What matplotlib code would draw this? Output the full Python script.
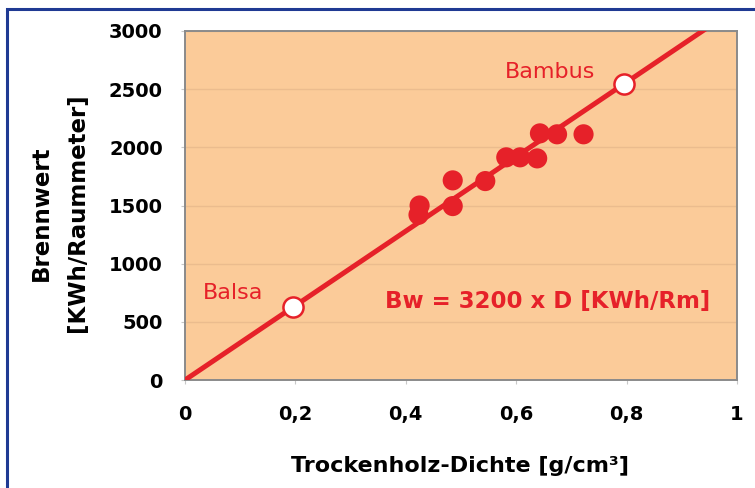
import matplotlib
matplotlib.use("Agg")
import matplotlib.pyplot as plt
from matplotlib.patches import Rectangle

plt.rcParams['font.family'] = ['DejaVu Sans']

# Measured woods: dry density [g/cm³] vs. heating value [KWh/Raummeter]
density = [0.425, 0.423, 0.485, 0.485, 0.544, 0.582, 0.607, 0.638, 0.643, 0.674, 0.722]
heating = [1500, 1420, 1716, 1495, 1710, 1914, 1914, 1905, 2120, 2112, 2112]

# Reference woods on the fitted line
ref_names = ["Balsa", "Bambus"]
ref_density = [0.195, 0.795]
ref_heating = [625, 2545]

slope = 3200  # Bw = 3200 x D
x_ticks = [0, 0.2, 0.4, 0.6, 0.8, 1.0]
x_labels = ["0", "0,2", "0,4", "0,6", "0,8", "1"]
y_ticks = [0, 500, 1000, 1500, 2000, 2500, 3000]

red = "#E62129"
fig = plt.figure(figsize=(7.55, 4.88), dpi=100)

# frame around the figure
fig.patches.append(Rectangle((7 / 755, -0.05), 1.2, 1 - 9 / 488 + 0.05,
                             transform=fig.transFigure, fill=False,
                             edgecolor="#1F3A93", linewidth=2.2))

ax = fig.add_axes([185 / 755, 1 - 380 / 488, 552 / 755, 349 / 488])
ax.set_facecolor("#FBCB99")
ax.set_xlim(0, 1)
ax.set_ylim(0, 3000)

for y in y_ticks[1:]:
    ax.axhline(y, color="#EBBC8E", linewidth=1.0, zorder=1)

xs = [0, 1]
ax.plot(xs, [slope * x for x in xs], color=red, linewidth=3.6,
        solid_capstyle="butt", zorder=3)
ax.scatter(density, heating, s=210, color=red, edgecolors="none", zorder=4)
ax.scatter(ref_density, ref_heating, s=210, facecolor="white",
           edgecolor=red, linewidth=1.8, zorder=5)

ax.text(0.033, 748, ref_names[0], color=red, fontsize=16, va="center", ha="left")
ax.text(0.58, 2648, ref_names[1], color=red, fontsize=16, va="center", ha="left")
ax.text(0.362, 679, "Bw = 3200 x D [KWh/Rm]", color=red, fontsize=16.5,
        fontweight="bold", va="center", ha="left")

ax.set_xticks(x_ticks)
ax.set_xticklabels(x_labels)
ax.set_yticks(y_ticks)
ax.tick_params(axis="both", length=3, color="#C8C8C8", labelsize=14)
ax.tick_params(axis="x", pad=15)
ax.tick_params(axis="y", pad=13)
for lab in ax.get_xticklabels() + ax.get_yticklabels():
    lab.set_fontweight("bold")

for sp in ax.spines.values():
    sp.set_color("#8A8A8A")
    sp.set_linewidth(1.4)

ax.set_xlabel("Trockenholz-Dichte [g/cm³]", fontsize=16, fontweight="bold", va="center")
ax.xaxis.set_label_coords(0.498, -0.246)
ax.set_ylabel("Brennwert\n[KWh/Raummeter]", fontsize=16.5, fontweight="bold",
              va="center", linespacing=1.75)
ax.yaxis.set_label_coords(-0.228, 0.478)

fig.savefig("out.png", dpi=100)
